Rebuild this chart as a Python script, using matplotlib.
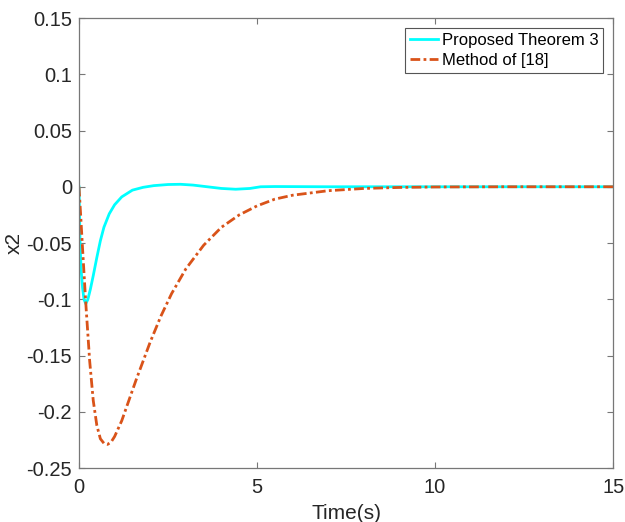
import numpy as np
import matplotlib
matplotlib.use("Agg")
import matplotlib.pyplot as plt

plt.rcParams['font.family'] = ['Liberation Sans', 'DejaVu Sans']

# values
t_prop = [0, 0.03, 0.06, 0.1, 0.14, 0.19, 0.25, 0.32, 0.4, 0.5, 0.6, 0.7, 0.85,
          1.0, 1.2, 1.5, 1.8, 2.1, 2.5, 2.85, 3.2, 3.6, 4.0, 4.4, 4.8, 5.1,
          5.5, 7, 10, 15]
x2_prop = [0, -0.05, -0.074, -0.09, -0.1, -0.104, -0.1, -0.091, -0.079, -0.063,
           -0.048, -0.036, -0.024, -0.016, -0.009, -0.003, -0.0005, 0.001,
           0.002, 0.0022, 0.0015, 0.0, -0.0015, -0.0022, -0.0015, 0.0, 0.0002,
           0, 0, 0]

t_ref = [0, 0.05, 0.1, 0.15, 0.2, 0.3, 0.4, 0.5, 0.6, 0.7, 0.8, 0.9, 1.0, 1.2,
         1.4, 1.6, 1.8, 2.0, 2.3, 2.6, 3.0, 3.5, 4.0, 4.5, 5.0, 5.5, 6, 7, 8,
         9, 10, 12, 15]
x2_ref = [0, -0.027, -0.055, -0.082, -0.108, -0.155, -0.19, -0.212, -0.224,
          -0.228, -0.229, -0.227, -0.222, -0.208, -0.19, -0.172, -0.155,
          -0.138, -0.115, -0.095, -0.073, -0.052, -0.036, -0.025, -0.017,
          -0.011, -0.0075, -0.0035, -0.0015, -0.0006, -0.0002, 0, 0]

labels = ["Proposed Theorem 3", "Method of [18]"]

fig = plt.figure(figsize=(6.25, 5.22), dpi=100)
ax = fig.add_axes([0.1264, 0.1034, 0.981 - 0.1264, 0.9655 - 0.1034])

ax.plot(t_prop, x2_prop, color=(0, 1, 1), lw=2, label=labels[0])
ax.plot(t_ref, x2_ref, color=(0.85, 0.325, 0.098), lw=2,
        linestyle=(0, (3.5, 1.2, 1, 1.2)), label=labels[1])

ax.set_xlim(0, 15)
ax.set_ylim(-0.25, 0.15)
ax.set_xticks([0, 5, 10, 15])
ax.set_yticks([-0.25, -0.2, -0.15, -0.1, -0.05, 0, 0.05, 0.1, 0.15])
ax.set_yticklabels(["-0.25", "-0.2", "-0.15", "-0.1", "-0.05", "0",
                    "0.05", "0.1", "0.15"])

for s in ax.spines.values():
    s.set_color('#777777')
    s.set_linewidth(0.9)
ax.tick_params(direction='in', top=True, right=True, length=4,
               colors='#777777', labelcolor='#262626', labelsize=14.5)
ax.tick_params(axis='x', pad=7)
ax.tick_params(axis='y', pad=5)

ax.set_xlabel("Time(s)", fontsize=15, color='#262626', labelpad=5)
ax.set_ylabel("x2", fontsize=15, color='#262626', labelpad=2)

leg = ax.legend(loc='upper right', fontsize=12, fancybox=False,
                framealpha=1, edgecolor='#555555', handlelength=1.7,
                handletextpad=0.2, borderpad=0.3, labelspacing=0.3,
                borderaxespad=0.6)
leg.get_frame().set_linewidth(0.8)

fig.savefig("out.png", dpi=100)
